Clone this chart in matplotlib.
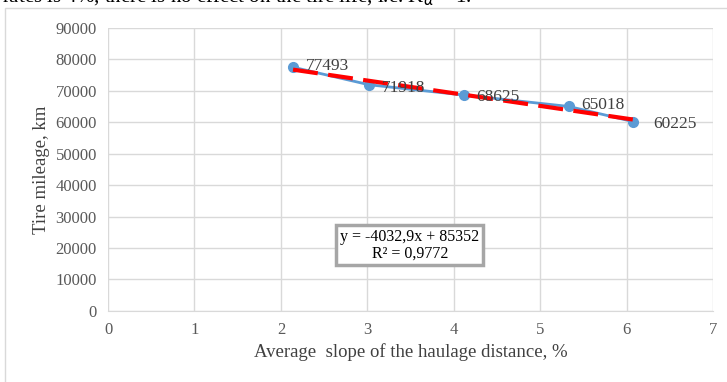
import matplotlib
matplotlib.use("Agg")
import matplotlib.pyplot as plt
from matplotlib.patches import Rectangle

# data
slope = [2.14, 3.02, 4.12, 5.33, 6.07]
mileage = [77493, 71918, 68625, 65018, 60225]
labels = ["77493", "71918", "68625", "65018", "60225"]
k, b = -4032.9, 85352

plt.rcParams['font.family'] = ['Liberation Serif', 'DejaVu Serif']

fig = plt.figure(figsize=(7.27, 3.82), dpi=100)
ax = fig.add_axes([0.1486, 0.186, 0.8324, 0.741])

# outer chart border
fig.patches.append(Rectangle((5 / 727, -0.05), 1.0, 1 - 8 / 382 + 0.05,
                             transform=fig.transFigure, fill=False,
                             edgecolor='#d9d9d9', lw=1))

# clipped line of the paper text above the chart
fig.text(0.003, 1.008, "rates is 4%, there is no effect on the tire life, i.e. K$_\\alpha$ = 1.",
         fontsize=15, va='center', ha='left')

ax.plot(slope, mileage, color='#5b9bd5', lw=2, marker='o', ms=7, zorder=3)
tx = [slope[0], slope[-1]]
ax.plot(tx, [k * x + b for x in tx], color='red', lw=3, ls=(0, (6, 2.5)), zorder=4)

offsets = [(9, 1), (9, -2), (9, -1), (9, 1), (15, -2)]
for x, y, t, o in zip(slope, mileage, labels, offsets):
    ax.annotate(t, (x, y), xytext=o, textcoords='offset points',
                fontsize=12.5, color='#404040', va='center', zorder=5)

ax.text(3.49, 21000, "y = -4032,9x + 85352\nR² = 0,9772", ha='center', va='center',
        fontsize=11.5, linespacing=1.05,
        bbox=dict(boxstyle='square,pad=0.25', fc='white', ec='#a6a6a6', lw=2.5))

ax.set_xlim(0, 7)
ax.set_ylim(0, 90000)
ax.set_xticks(range(8))
ax.set_yticks(range(0, 90001, 10000))
ax.grid(True, color='#d9d9d9', lw=1)
ax.set_axisbelow(True)
for s in ['top', 'right', 'left']:
    ax.spines[s].set_visible(False)
ax.spines['bottom'].set_color('#d9d9d9')
ax.tick_params(length=0, labelsize=12, colors='#595959', pad=8)
ax.set_xlabel("Average  slope of the haulage distance, %", fontsize=13.5, color='#404040')
ax.set_ylabel("Tire mileage, km", fontsize=13.5, color='#404040')

fig.savefig("out.png", dpi=100)
